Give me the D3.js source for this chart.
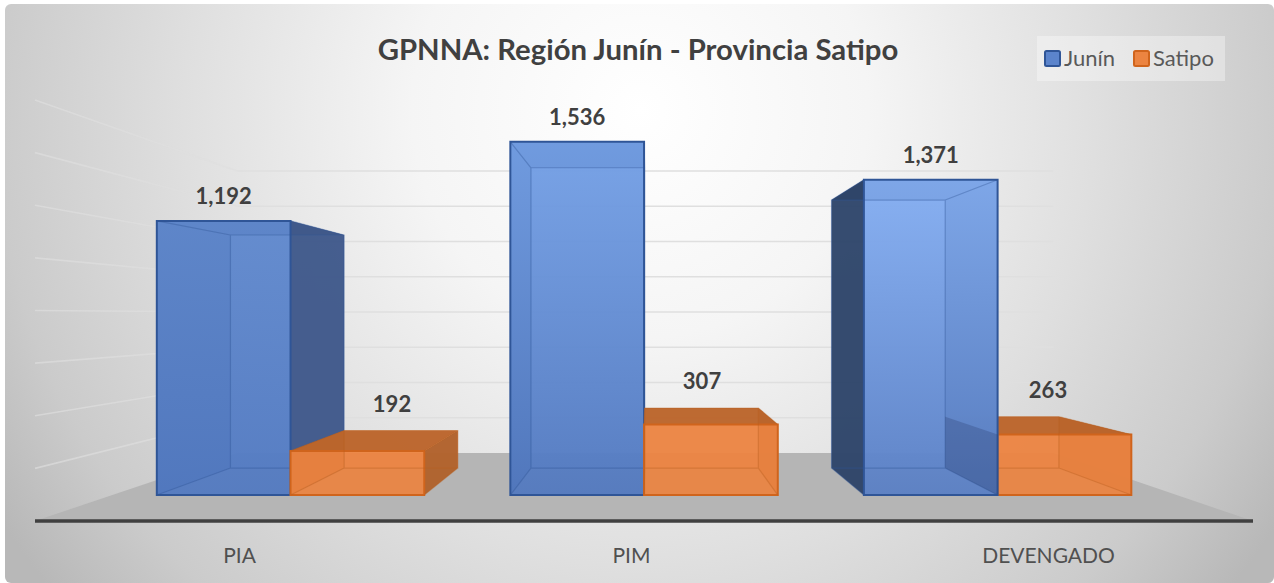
<!DOCTYPE html>
<html lang="es">
<head>
<meta charset="UTF-8">
<title>GPNNA: Región Junín - Provincia Satipo</title>
<style>
  html, body { margin: 0; padding: 0; background: #fff; overflow: hidden; }
  text { font-family: Lato, "Noto Sans", sans-serif; }
</style>
<script src="https://d3js.org/d3.v7.min.js"></script>
</head>
<body>
<script>
const categories = ["PIA", "PIM", "DEVENGADO"]
const seriesNames = ["Junín", "Satipo"]
const junin = [1192, 1536, 1371]
const satipo = [192, 307, 263]
const gridTicks = [0, 200, 400, 600, 800, 1000, 1200, 1400, 1600]

const width = 1274
const height = 583

// vanishing point and depth factors of the 3D box
const vx = 648, vy = 315
const depthFloorFront = 1, depthBarFront = 0.874, depthBarBack = 0.743, depthWall = 0.67
const floorX = [35, 1253]

const x0 = d3.scaleBand().domain(categories).range([36, 1251]).paddingInner(0.2435).paddingOuter(0.1236)
const x1 = d3.scaleBand().domain(seriesNames).range([0, x0.bandwidth()])
const y = d3.scaleLinear().domain([0, 1600]).range([521, 100])

// the labels do not sit on the band centres in the original
const catLabelX = d3.scaleOrdinal(categories, [239, 631, 1048])
const satipoLabelX = d3.scaleOrdinal(categories, [392, 702, 1048])

const project = (px, v, s) => [vx + s * (px - vx), vy + s * (y(v) - vy)]

const svg = d3.select("body").append("svg").attr("width", width).attr("height", height).style("display", "block")
const defs = svg.append("defs")

const bg = defs.append("radialGradient").attr("id", "bg")
  .attr("gradientUnits", "userSpaceOnUse")
  .attr("cx", 0).attr("cy", 0).attr("r", 1)
  .attr("gradientTransform", "translate(640,110) scale(760,760)")
bg.selectAll("stop").data([[0, "#ffffff"], [0.3, "#f5f5f5"], [0.6, "#dfdfdf"], [0.85, "#cbcbcb"], [1, "#b8b8b8"]]).join("stop")
  .attr("offset", d => d[0]).attr("stop-color", d => d[1])

const blueTop = d3.scaleOrdinal(categories, ["#6089ce", "#74a0e6", "#84aef2"])
const blueBottom = d3.scaleOrdinal(categories, ["#527ac2", "#5279c0", "#5a80c6"])
const blueSide = d3.scaleOrdinal(categories, ["#40598a", "#3a5686", "#2e4468"])
categories.forEach((c, i) => {
  const g = defs.append("linearGradient").attr("id", "blue" + i).attr("x1", 0).attr("y1", 0).attr("x2", 0).attr("y2", 1)
  g.append("stop").attr("offset", 0).attr("stop-color", blueTop(c))
  g.append("stop").attr("offset", 1).attr("stop-color", blueBottom(c))
})

svg.append("rect").attr("x", 5).attr("y", 4).attr("width", width - 5).attr("height", height - 4)
  .attr("rx", 6).attr("fill", "url(#bg)")

// floor
const line = d3.line()
const floor = [
  project(floorX[0], 0, depthFloorFront),
  project(floorX[0], 0, depthWall),
  project(floorX[1], 0, depthWall),
  project(floorX[1], 0, depthFloorFront)
]
svg.append("path").attr("d", line(floor) + "Z").attr("fill", "#b5b5b5")

// grid: side wall and back wall
const grid = svg.append("g").attr("fill", "none").attr("stroke", "#dfdfdf").attr("stroke-width", 1.6)
grid.selectAll("path.side").data(gridTicks.slice(1)).join("path").attr("class", "side")
  .attr("stroke-opacity", 0.65)
  .attr("d", v => line([project(floorX[0], v, depthFloorFront), project(floorX[0], v, depthWall)]))
grid.selectAll("path.back").data(gridTicks.slice(1)).join("path").attr("class", "back")
  .attr("d", v => line([project(floorX[0], v, depthWall), project(floorX[1], v, depthWall)]))

// axis line
svg.append("path").attr("d", line([floor[0], floor[3]])).attr("stroke", "#404040").attr("stroke-width", 3.5)

const palette = {
  "Junín": { top: "#3a5686", edge: "#2f5597", inner: "#2f5597" },
  "Satipo": { side: "#b0622c", top: "#bb652c", edge: "#d0641c", inner: "#b9601f" }
}
const orangeFront = "#ec8441"

function barCorners(cat, name, value) {
  const left = x0(cat) + x1(name)
  const right = left + x1.bandwidth()
  return {
    fb: project(left, 0, depthBarFront), fr: project(right, 0, depthBarFront),
    ft: project(left, value, depthBarFront), ftr: project(right, value, depthBarFront),
    bb: project(left, 0, depthBarBack), br: project(right, 0, depthBarBack),
    bt: project(left, value, depthBarBack), btr: project(right, value, depthBarBack)
  }
}

function drawBar(parent, cat, name, value, catIndex) {
  const col = palette[name]
  const sideCol = name === "Junín" ? blueSide(cat) : col.side
  const topCol = name === "Junín" ? blueSide(cat) : col.top
  const { fb, fr, ft, ftr, bb, br, bt, btr } = barCorners(cat, name, value)
  const g = parent.append("g")
  const frontFill = name === "Junín" ? `url(#blue${catIndex})` : orangeFront
  const frontOpacity = name === "Junín" ? 0.92 : 0.9

  // faces from the far ones to the near one
  const faces = [[bt, btr, br, bb], [ft, bt, bb, fb], [ftr, btr, br, fr], [ft, ftr, btr, bt]]
  g.selectAll("path.face").data(faces).join("path").attr("class", "face")
    .attr("d", d => line(d) + "Z")
    .attr("fill", (d, i) => i === 0 ? frontFill : (i === 3 ? topCol : sideCol))
    .attr("fill-opacity", (d, i) => i === 0 ? 0.5 : 0.95)
    .attr("stroke", "none")
  g.append("path").attr("d", line([bb, fb, fr, br]) + "Z").attr("fill", sideCol).attr("fill-opacity", 0.25)

  g.append("path").attr("d", line([ft, ftr, fr, fb]) + "Z")
    .attr("fill", frontFill).attr("fill-opacity", frontOpacity)
    .attr("stroke", col.edge).attr("stroke-width", 2)

  // edges of the box seen through the front face
  g.append("path")
    .attr("d", [
      line([bt, btr, br, bb]) + "Z",
      line([ft, bt]), line([ftr, btr]), line([fb, bb]), line([fr, br])
    ].join(""))
    .attr("fill", "none").attr("stroke", col.inner).attr("stroke-opacity", 0.4).attr("stroke-width", 1.2)
}

// painter's order, bars closest to the vanishing point go last
const bars = svg.append("g")
drawBar(bars, categories[0], "Junín", junin[0], 0)
drawBar(bars, categories[0], "Satipo", satipo[0], 0)
drawBar(bars, categories[1], "Junín", junin[1], 1)
drawBar(bars, categories[1], "Satipo", satipo[1], 1)
drawBar(bars, categories[2], "Satipo", satipo[2], 2)
drawBar(bars, categories[2], "Junín", junin[2], 2)

// left face of the last orange box shows through the blue one
const seen = barCorners(categories[2], "Satipo", satipo[2])
bars.append("path").attr("d", line([seen.bt, seen.ft, seen.fb, seen.bb]) + "Z")
  .attr("fill", "#2b3f70").attr("fill-opacity", 0.3)

// value labels
const fmt = d3.format(",")
const labels = svg.append("g").attr("font-size", 22).attr("font-weight", 700).attr("fill", "#404040").attr("text-anchor", "middle")
labels.selectAll("text.j").data(categories).join("text").attr("class", "j")
  .attr("x", c => project(x0(c) + x1("Junín") + x1.bandwidth() / 2, 0, depthBarFront)[0])
  .attr("y", (c, i) => project(0, junin[i], depthBarFront)[1] - 17)
  .text((c, i) => fmt(junin[i]))
labels.selectAll("text.s").data(categories).join("text").attr("class", "s")
  .attr("x", c => satipoLabelX(c))
  .attr("y", (c, i) => project(0, satipo[i], depthBarBack)[1] - 19)
  .text((c, i) => fmt(satipo[i]))

// category axis
const axis = svg.append("g").attr("transform", "translate(0,538)")
  .call(d3.axisBottom(catLabelX).tickSize(0).tickPadding(10))
axis.select(".domain").remove()
axis.selectAll("text").attr("font-size", 21).attr("fill", "#505050")
  .style("font-family", "Lato, 'Noto Sans', sans-serif")

// title
svg.append("text").attr("x", 638).attr("y", 60).attr("text-anchor", "middle")
  .attr("font-size", 29.3).attr("font-weight", 700).attr("fill", "#404040")
  .text("GPNNA: Región Junín - Provincia Satipo")

// legend
const legend = svg.append("g")
legend.append("rect").attr("x", 1037).attr("y", 36).attr("width", 188).attr("height", 45)
  .attr("fill", "#ffffff").attr("fill-opacity", 0.35)
const legendX = d3.scaleOrdinal(seriesNames, [1045, 1134])
const legendFill = d3.scaleOrdinal(seriesNames, ["#5b84cc", orangeFront])
const legendEdge = d3.scaleOrdinal(seriesNames, ["#2f5597", "#d0641c"])
const items = legend.selectAll("g").data(seriesNames).join("g")
  .attr("transform", d => `translate(${legendX(d)},51)`)
items.append("rect").attr("x", 0).attr("y", 0).attr("width", 15).attr("height", 15).attr("rx", 1.5)
  .attr("fill", d => legendFill(d)).attr("stroke", d => legendEdge(d)).attr("stroke-width", 2)
items.append("text").attr("x", 19).attr("y", 15).attr("font-size", 22).attr("fill", "#595959").text(d => d)
</script>
</body>
</html>
